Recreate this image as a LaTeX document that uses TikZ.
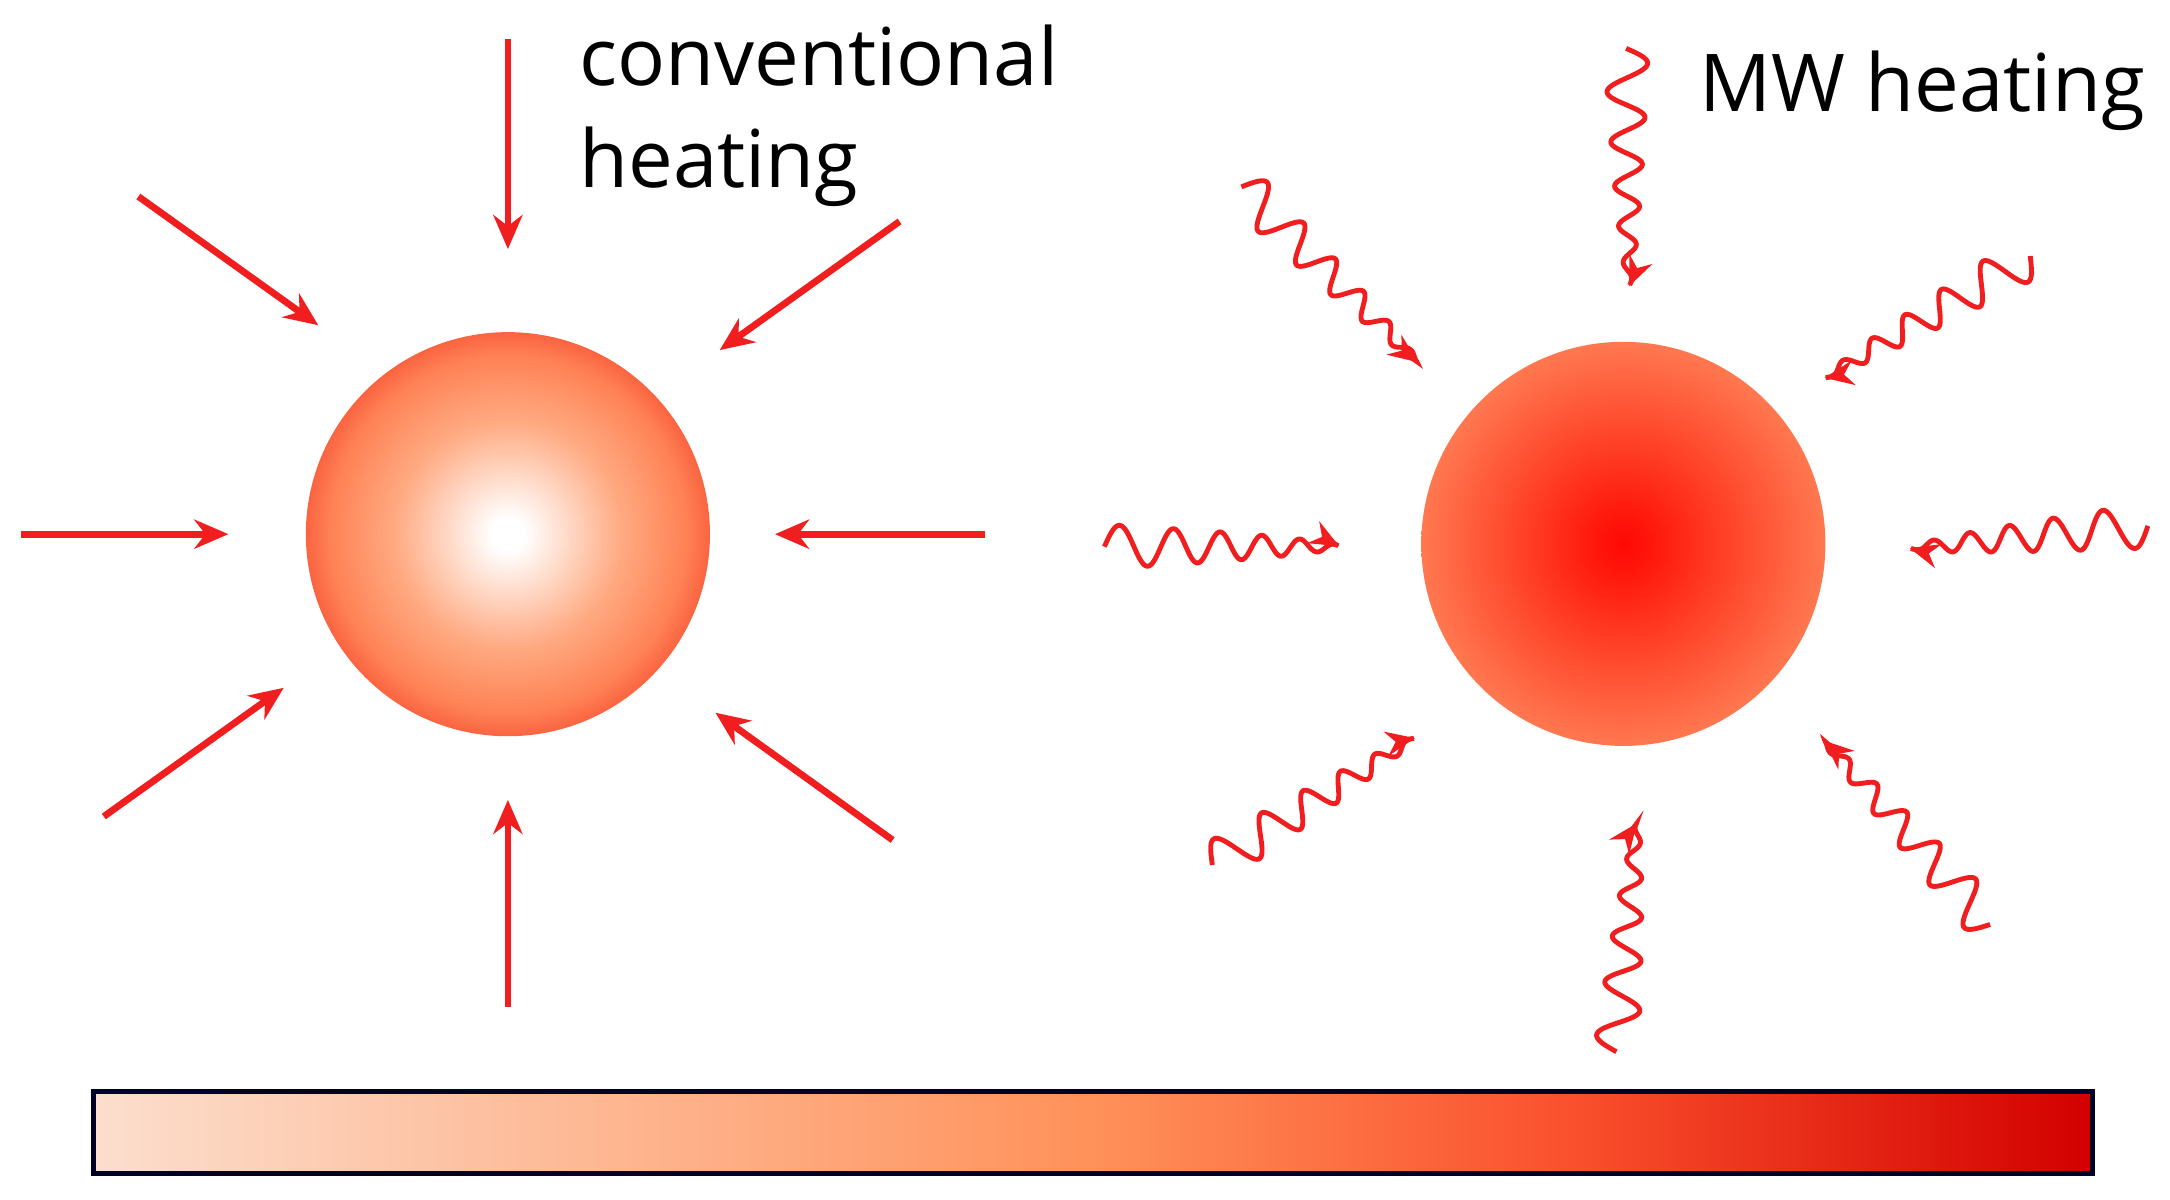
\documentclass[tikz,border=0pt]{standalone}
\usepackage{fontspec}
\setmainfont{Open Sans}
\definecolor{arr}{RGB}{240,30,30}
\pgfdeclareradialshading{cold}{\pgfpoint{0bp}{0bp}}{color(0bp)=(white); color(2bp)=(white); color(14bp)=(rgb,255:red,255;green,170;blue,130); color(22bp)=(rgb,255:red,255;green,130;blue,85); color(25bp)=(rgb,255:red,250;green,100;blue,65); color(50bp)=(rgb,255:red,250;green,100;blue,65)}
\pgfdeclareradialshading{hot}{\pgfpoint{0bp}{0bp}}{color(0bp)=(rgb,255:red,255;green,10;blue,5); color(3bp)=(rgb,255:red,255;green,20;blue,10); color(16bp)=(rgb,255:red,255;green,80;blue,50); color(25bp)=(rgb,255:red,255;green,120;blue,80); color(50bp)=(rgb,255:red,255;green,120;blue,80)}
\pgfdeclarehorizontalshading{scale}{100bp}{color(0bp)=(rgb,255:red,252;green,222;blue,205); color(25bp)=(rgb,255:red,252;green,222;blue,205); color(50bp)=(rgb,255:red,255;green,145;blue,90); color(62bp)=(rgb,255:red,250;green,80;blue,45); color(75bp)=(rgb,255:red,210;green,0;blue,0); color(100bp)=(rgb,255:red,210;green,0;blue,0)}
\tikzset{
  sarrow/.style={draw=arr, line width=1.4pt, -{Stealth[length=7pt,width=6pt]}},
  ball/.style={circle, minimum size=2.92cm, inner sep=0pt},
  lbl/.style={font=\fontsize{16.4}{21}\selectfont, align=left, anchor=north west, inner sep=0pt},
  pics/wave/.style={code={
    \draw[arr, line width=1pt, -{Stealth[length=6pt,width=5pt]}]
      plot[domain=0:#1, samples=200, smooth] (\x, {0.16*(1-\x/#1)^0.6*sin(360*(\x/0.45+1.6*(\x/#1)^2))});
  }}
}
\usetikzlibrary{arrows.meta}
\begin{document}
\begin{tikzpicture}
\useasboundingbox (0,0) rectangle (15.68,-8.67);
% left sphere
\node[ball, shading=cold] (cs) at (3.67,-3.86) {};
\coordinate (a1) at (3.67,-0.28); \coordinate (b1) at (3.67,-1.80);
\coordinate (a2) at (1.00,-1.42); \coordinate (b2) at (2.30,-2.35);
\coordinate (a3) at (6.50,-1.60); \coordinate (b3) at (5.20,-2.53);
\coordinate (a4) at (0.15,-3.86); \coordinate (b4) at (1.65,-3.86);
\coordinate (a5) at (7.12,-3.86); \coordinate (b5) at (5.60,-3.86);
\coordinate (a6) at (0.75,-5.90); \coordinate (b6) at (2.05,-4.97);
\coordinate (a7) at (6.45,-6.07); \coordinate (b7) at (5.17,-5.15);
\coordinate (a8) at (3.67,-7.28); \coordinate (b8) at (3.67,-5.78);
\foreach \i in {1,...,8} \draw[sarrow] (a\i) -- (b\i);
\node[lbl] (t1) at (4.18,-0.17) {conventional\\heating};
% right sphere
\node[ball, shading=hot] (ms) at (11.73,-3.93) {};
\pic[rotate=-89.3] (w1) at (11.75,-0.35) {wave=1.72};
\pic[rotate=-44.8] (w2) at (8.97,-1.35) {wave=1.80};
\pic[rotate=-149.4] (w3) at (14.67,-1.85) {wave=1.73};
\pic[rotate=0] (w4) at (7.98,-3.95) {wave=1.70};
\pic[rotate=-174.7] (w5) at (15.52,-3.80) {wave=1.73};
\pic[rotate=32.0] (w6) at (8.76,-6.25) {wave=1.73};
\pic[rotate=132.1] (w7) at (14.38,-6.68) {wave=1.79};
\pic[rotate=84.8] (w8) at (11.68,-7.60) {wave=1.66};
\node[lbl] (t2) at (12.27,-0.36) {MW heating};
% bar
\node[draw=black!85!blue, line width=1pt, shading=scale, minimum width=14.44cm, minimum height=0.59cm, inner sep=0pt, anchor=north west] (bar) at (0.66,-7.87) {};
\end{tikzpicture}
\end{document}
